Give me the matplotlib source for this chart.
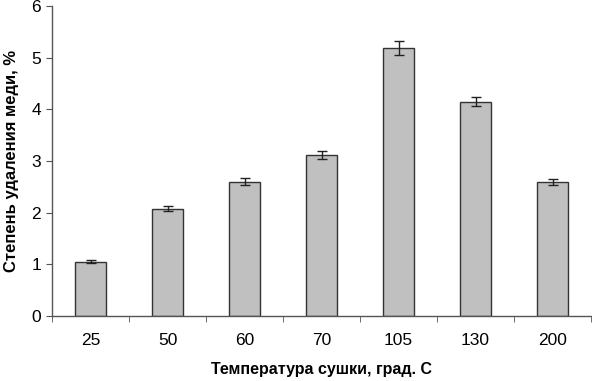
import matplotlib
matplotlib.use("Agg")
import matplotlib.pyplot as plt
import numpy as np

categories = ["25", "50", "60", "70", "105", "130", "200"]
values = [1.05, 2.08, 2.60, 3.11, 5.19, 4.15, 2.60]
errors = [0.03, 0.05, 0.07, 0.08, 0.13, 0.09, 0.06]
yticks = [0, 1, 2, 3, 4, 5, 6]

plt.rcParams['font.family'] = ['Liberation Sans', 'DejaVu Sans']

fig = plt.figure(figsize=(5.92, 3.81), dpi=100)
ax = fig.add_axes([52/592, 65/381, 539/592, 310/381])

x = np.arange(len(categories))
ax.bar(x, values, width=0.4, color='#c0c0c0', edgecolor='#333333', linewidth=1.0,
       yerr=errors, error_kw=dict(ecolor='#222222', elinewidth=1.0, capsize=3.5, capthick=1.0))

ax.set_xlim(-0.5, len(categories) - 0.5)
ax.set_ylim(0, 6)
ax.set_yticks(yticks)
ax.set_yticklabels([str(t) for t in yticks], fontsize=12.5)
ax.set_xticks(x)
ax.set_xticklabels(categories, fontsize=12.5)
ax.tick_params(axis='x', length=0, pad=12)
ax.set_xticks(np.arange(len(categories) + 1) - 0.5, minor=True)
ax.tick_params(axis='x', which='minor', length=4, direction='out', color='#555555')
ax.tick_params(axis='y', length=4, direction='out', color='#555555', pad=4)

for s in ['top', 'right']:
    ax.spines[s].set_visible(False)
for s in ['left', 'bottom']:
    ax.spines[s].set_color('#555555')
    ax.spines[s].set_linewidth(1.0)

ax.set_xlabel("Температура сушки, град. С", fontsize=11.5, fontweight='bold', labelpad=10)
ax.set_ylabel("Степень удаления меди, %", fontsize=12, fontweight='bold', labelpad=9)

fig.savefig("out.png", dpi=100)
